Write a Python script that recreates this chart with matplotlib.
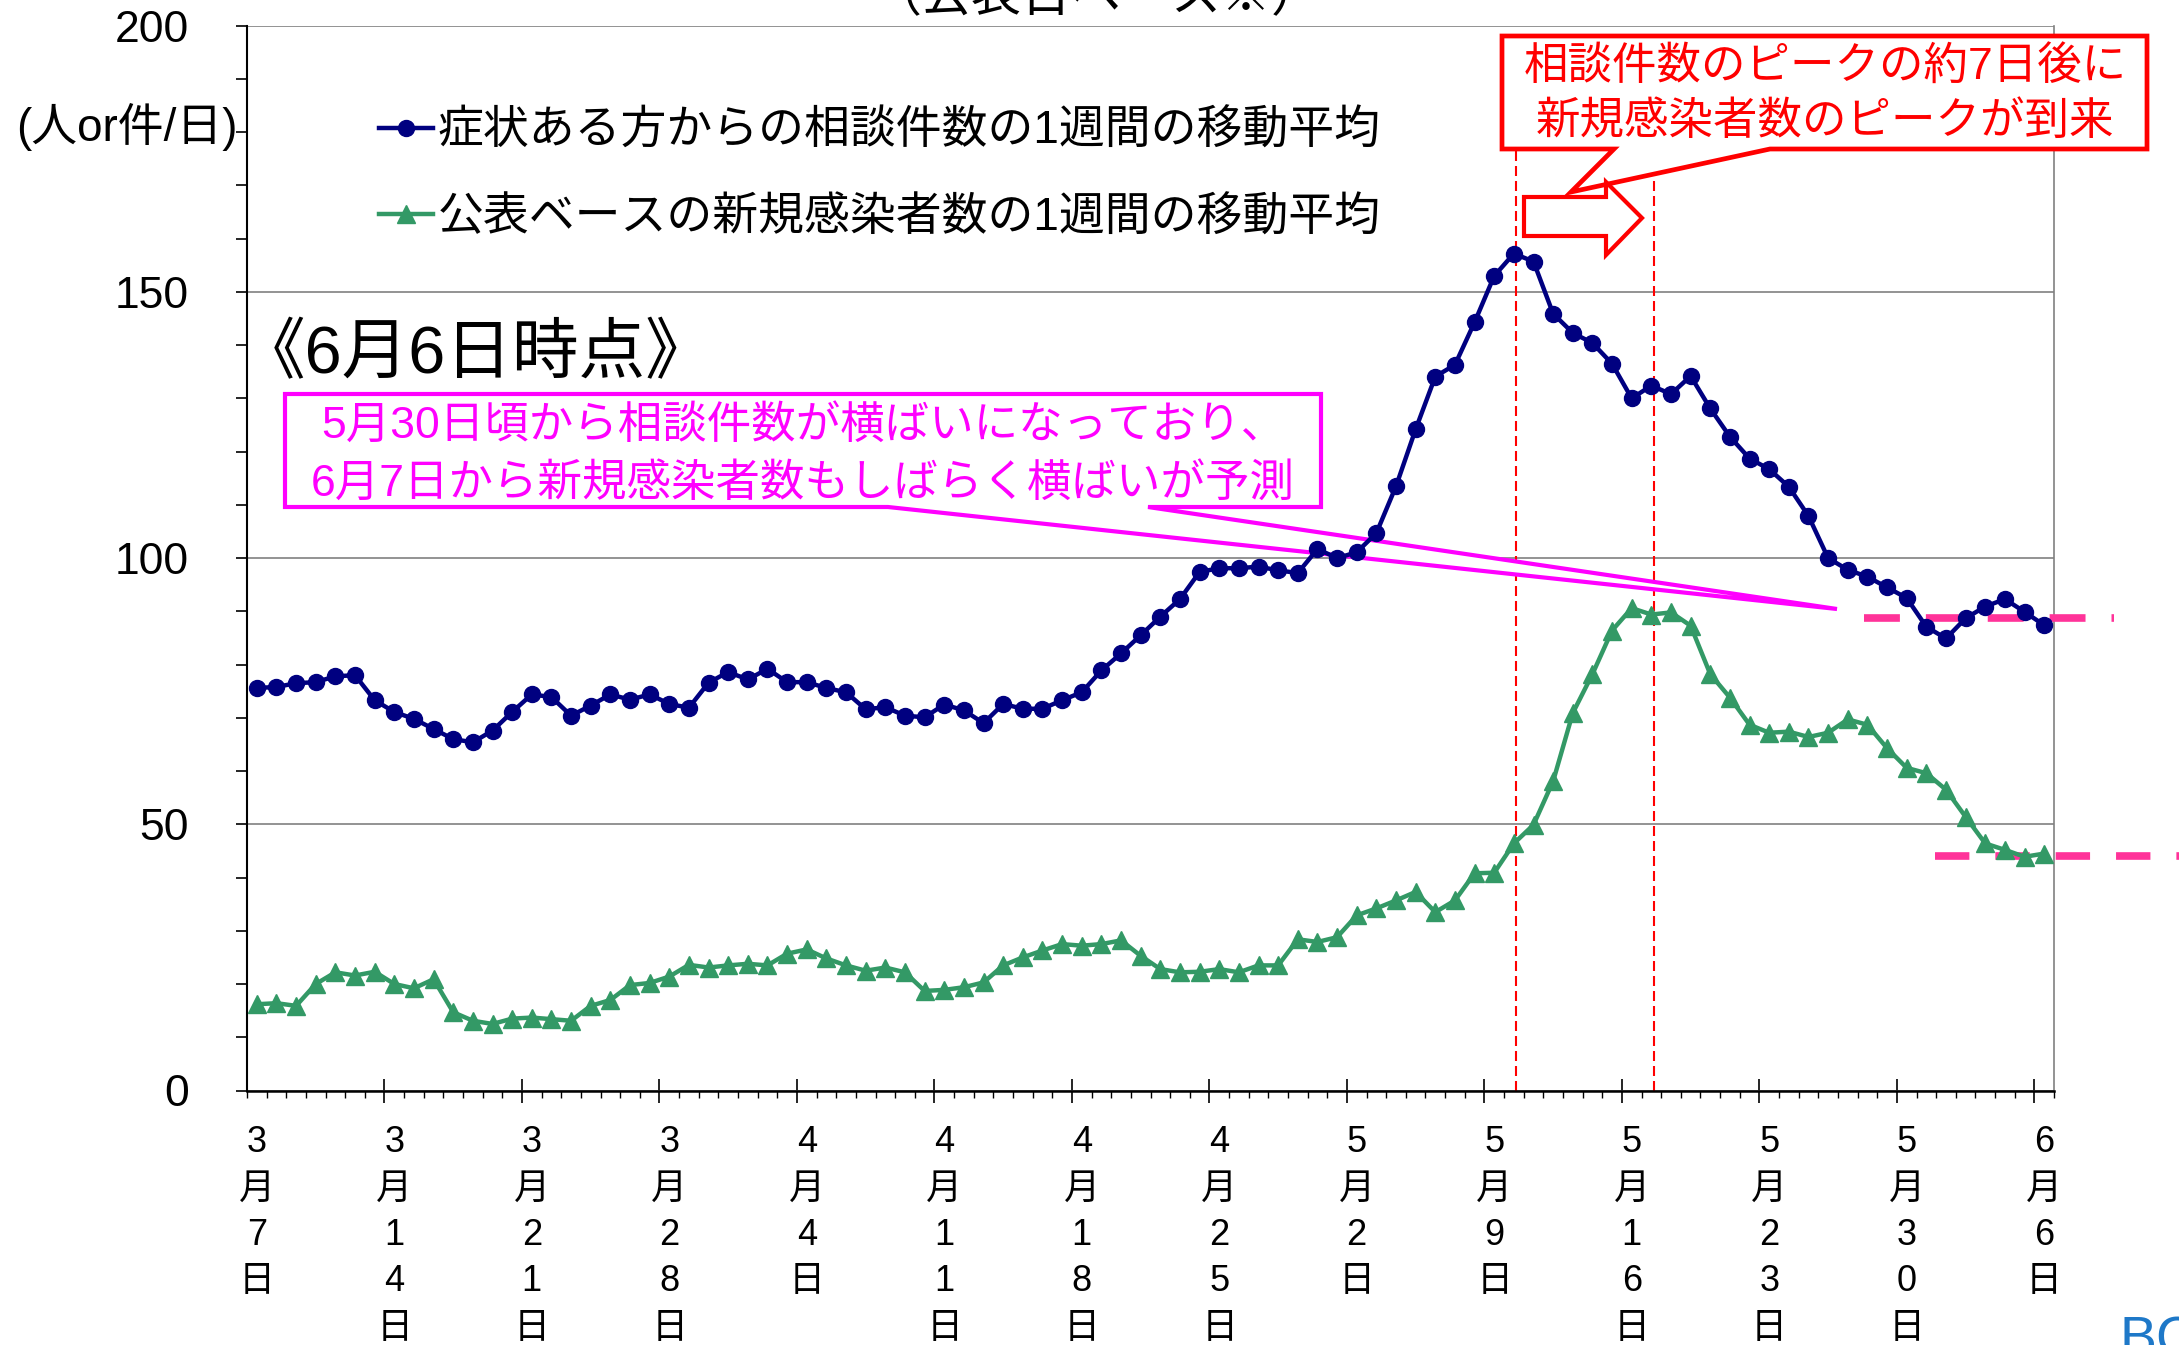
import matplotlib

matplotlib.use("Agg")
import matplotlib.pyplot as plt
import matplotlib.transforms as mtransforms
from matplotlib.patches import Polygon
from matplotlib.ticker import FixedLocator, MultipleLocator
import numpy as np

plt.rcParams["font.family"] = ["Liberation Sans", "Noto Sans CJK JP"]

W, H = 2179, 1345

# 7-day moving averages, one value per day from 3/7 to 6/6
consult = [
    75.6, 75.8, 76.5, 76.7, 77.8, 78.0, 73.3, 71.1, 69.8, 67.9,
    66.0, 65.4, 67.6, 71.1, 74.4, 73.9, 70.4, 72.3, 74.4, 73.4,
    74.4, 72.6, 71.9, 76.6, 78.6, 77.2, 79.2, 76.7, 76.7, 75.6,
    74.8, 71.6, 72.0, 70.4, 70.1, 72.5, 71.4, 69.0, 72.6, 71.7,
    71.7, 73.3, 74.8, 78.9, 82.1, 85.5, 89.0, 92.3, 97.4, 98.1,
    98.1, 98.4, 97.7, 97.2, 101.7, 100.0, 101.1, 104.7, 113.5, 124.2,
    134.1, 136.3, 144.3, 153.0, 157.2, 155.7, 145.9, 142.3, 140.4, 136.5,
    130.0, 132.4, 130.8, 134.2, 128.1, 122.8, 118.7, 116.7, 113.4, 107.9,
    100.0, 97.8, 96.5, 94.5, 92.5, 87.1, 84.9, 88.7, 90.9, 92.3,
    89.9, 87.4,
]
infected = [
    16.2, 16.4, 15.9, 20.0, 22.2, 21.6, 22.3, 20.0, 19.2, 20.9,
    14.7, 13.1, 12.5, 13.5, 13.7, 13.4, 13.1, 15.9, 17.0, 19.8,
    20.2, 21.4, 23.6, 23.1, 23.5, 23.8, 23.5, 25.7, 26.5, 24.8,
    23.5, 22.5, 23.1, 22.2, 18.7, 18.9, 19.4, 20.3, 23.5, 25.0,
    26.3, 27.5, 27.2, 27.5, 28.2, 25.3, 22.8, 22.2, 22.3, 22.8,
    22.2, 23.5, 23.5, 28.4, 27.9, 28.8, 32.9, 34.2, 35.7, 37.3,
    33.5, 35.7, 40.8, 40.9, 46.4, 49.9, 58.1, 70.9, 78.2, 86.4,
    90.6, 89.4, 89.8, 87.3, 78.2, 73.8, 68.7, 67.2, 67.4, 66.4,
    67.2, 69.7, 68.7, 64.3, 60.6, 59.6, 56.5, 51.4, 46.4, 45.2,
    43.9, 44.5,
]
tick_labels = [
    "3月7日", "3月14日", "3月21日", "3月28日", "4月4日", "4月11日", "4月18日",
    "4月25日", "5月2日", "5月9日", "5月16日", "5月23日", "5月30日", "6月6日",
]
label_consult = "症状ある方からの相談件数の1週間の移動平均"
label_infected = "公表ベースの新規感染者数の1週間の移動平均"

# peak markers (consultation peak, infection peak ~7 days later)
peak_days = [64.12, 71.12]
# flat-level guides for the forecast
level_consult = 88.8
level_infected = 44.05

x = np.arange(len(consult))

fig = plt.figure(figsize=(W / 100, H / 100), dpi=100)
ax = fig.add_axes([247 / W, 1 - 1090.5 / H, (2054 - 247) / W, (1090.5 - 25.7) / H])
# pixel coordinates measured from the top-left corner of the picture
px = mtransforms.Affine2D().scale(1 / W, -1 / H).translate(0, 1) + fig.transFigure

ax.set_xlim(-0.5, len(consult) - 0.5)
ax.set_ylim(0, 200)

# y axis
ax.set_yticks([0, 50, 100, 150, 200])
ax.yaxis.set_minor_locator(MultipleLocator(10))
ax.yaxis.grid(True, which="major", color="#808080", linewidth=1.2, zorder=0)
ax.set_axisbelow(True)
ax.tick_params(axis="y", which="both", direction="out", length=8, width=1.2,
               color="black", labelsize=32, pad=34)

# x axis: ticks between categories, labels every 7 days
ax.xaxis.set_major_locator(FixedLocator(np.arange(6.5, len(consult), 7)))
ax.xaxis.set_minor_locator(FixedLocator(np.arange(-0.5, len(consult), 1)))
ax.tick_params(axis="x", which="major", direction="inout", length=17, width=1.2,
               labelbottom=False)
ax.tick_params(axis="x", which="minor", direction="out", length=5, width=1.0)

ax.spines["top"].set_visible(False)
ax.spines["right"].set_color("#808080")
ax.spines["right"].set_linewidth(1.2)
ax.spines["left"].set_linewidth(1.5)
ax.spines["bottom"].set_linewidth(1.8)

xt = ax.get_xaxis_transform()


def yfrac(ypx):
    return (1090.5 - ypx) / (1090.5 - 25.7)


# vertical (one character per line) date labels
for k, lab in enumerate(tick_labels):
    for j, ch in enumerate(lab):
        ax.text(7 * k, yfrac(1143 + 46.3 * j), ch, transform=xt, ha="center",
                va="center", fontsize=26, clip_on=False)

# data
l1, = ax.plot(x, consult, color="#000080", linewidth=3.2, marker="o",
              markersize=11.5, zorder=4, label=label_consult)
l2, = ax.plot(x, infected, color="#339966", linewidth=3.2, marker="^",
              markersize=12.5, zorder=4, label=label_infected)

# red dashed peak lines
ax.vlines(peak_days, 0, (1090.5 - 149) / (1090.5 - 25.7) * 200, colors="#FF0000",
          linewidth=1.5, linestyles=(0, (4.8, 2.4)), zorder=1.5)

# pink level guides
g1, = ax.plot([81.85, 94.55], [level_consult] * 2, color="#FF3399", linewidth=5.5,
              zorder=3, clip_on=False)
g1.set_dashes([4.7, 3.4])
g1.set_dash_capstyle("butt")
g2, = ax.plot([85.45, 98.0], [level_infected] * 2, color="#FF3399", linewidth=5.5,
              zorder=3, clip_on=False)
g2.set_dashes([4.5, 3.4])
g2.set_dash_capstyle("butt")

# legend
ax.legend(handles=[l1, l2], loc="upper left", bbox_to_anchor=(379, 110),
          bbox_transform=px, frameon=False, fontsize=33, borderpad=0,
          borderaxespad=0, handlelength=1.18, handletextpad=0.1,
          labelspacing=0.92)

# magenta callout
ax.add_patch(Polygon([(285, 394), (1321, 394), (1321, 507), (1148, 507),
                      (1837, 609), (888, 507), (285, 507)], closed=True,
                     transform=px, facecolor="white", edgecolor="#FF00FF",
                     linewidth=3.0, joinstyle="miter", clip_on=False, zorder=2))
ax.text(803, 426, "5月30日頃から相談件数が横ばいになっており、", transform=px,
        ha="center", va="center", fontsize=32, color="#FF00FF", zorder=2.1)
ax.text(803, 484, "6月7日から新規感染者数もしばらく横ばいが予測", transform=px,
        ha="center", va="center", fontsize=32, color="#FF00FF", zorder=2.1)

# red callout and arrow
ax.add_patch(Polygon([(1502, 36), (2147, 36), (2147, 149), (1770, 149),
                      (1571, 192), (1614, 149), (1502, 149)], closed=True,
                     transform=px, facecolor="white", edgecolor="#FF0000",
                     linewidth=3.4, joinstyle="miter", clip_on=False, zorder=5))
ax.text(1825, 67, "相談件数のピークの約7日後に", transform=px, ha="center",
        va="center", fontsize=32, color="#FF0000", zorder=5.1)
ax.text(1825, 122, "新規感染者数のピークが到来", transform=px, ha="center",
        va="center", fontsize=32, color="#FF0000", zorder=5.1)
ax.add_patch(Polygon([(1524, 197), (1606, 197), (1606, 182), (1642, 218),
                      (1606, 255), (1606, 236), (1524, 236)], closed=True,
                     transform=px, facecolor="white", edgecolor="#FF0000",
                     linewidth=3.0, joinstyle="miter", clip_on=False, zorder=5))

# other texts
ax.text(476, 356, "《6月6日時点》", transform=px, ha="center", va="center",
        fontsize=48, color="black")
ax.text(127, 127, "(人or件/日)", transform=px, ha="center", va="center",
        fontsize=33, color="black", clip_on=False)
ax.text(1096, 11, "（公表日ベース※）", transform=px, ha="center", va="baseline",
        fontsize=36, color="black", clip_on=False)
ax.text(2120, 1316, "BC", transform=px, ha="left", va="top", fontsize=40,
        color="#1E78C8", clip_on=False)

fig.savefig("out.png", dpi=100)
